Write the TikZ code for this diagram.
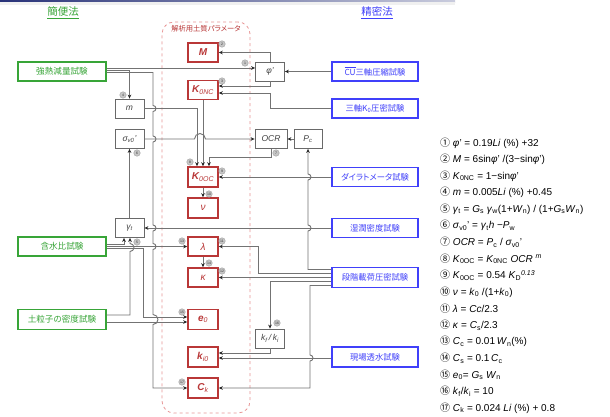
\documentclass[tikz,border=0pt]{standalone}
\usepackage{fontspec}
\setmainfont{Liberation Sans}
\newfontfamily\jp[RawFeature=+palt]{Noto Sans CJK JP}
\newfontfamily\jpn{Noto Sans CJK JP}
\usetikzlibrary{arrows.meta}
\definecolor{grn}{RGB}{56,165,56}
\definecolor{blu}{RGB}{64,64,250}
\definecolor{dred}{RGB}{185,55,55}
\definecolor{pnk}{RGB}{232,150,150}
\definecolor{lnc}{RGB}{115,115,115}
\definecolor{gbx}{RGB}{105,105,105}
\definecolor{navy}{RGB}{40,50,120}
\newcommand\sbt[1]{\textsubscript{#1}}
\newcommand\spt[1]{\textsuperscript{#1}}
\tikzset{
  gbox/.style={draw=grn, line width=1.3pt, fill=white, text=grn, minimum width=88pt, minimum height=19pt, inner sep=0pt, font=\jp\fontsize{8.6}{8.6}\selectfont},
  bbox/.style={draw=blu, line width=1.3pt, fill=white, text=blu, minimum width=86pt, minimum height=19pt, inner sep=0pt, font=\jp\fontsize{8.3}{8.3}\selectfont},
  rbox/.style={draw=dred, line width=1.6pt, fill=white, text=dred, minimum width=30pt, minimum height=19pt, inner sep=0pt, font=\fontsize{10}{10}\selectfont\bfseries\itshape},
  kbox/.style={draw=gbx, line width=0.8pt, fill=white, text=black!75, minimum width=29pt, minimum height=19pt, inner sep=0pt, font=\fontsize{8.5}{8.5}\selectfont\itshape},
  cn/.style={draw=lnc, line width=0.9pt, -{Stealth[length=4pt,width=3.6pt,color=black!85]}},
  mk/.style={circle, fill=gray!45, draw=gray!75, line width=0.4pt, inner sep=0pt, minimum size=6.5pt, font=\fontsize{3.5}{3.5}\selectfont, text=black!80},
  fm/.style={anchor=west, inner sep=0pt, font=\fontsize{10}{10}\selectfont},
}
\begin{document}
\begin{tikzpicture}[x=1pt,y=-1pt]
\useasboundingbox (0,0) rectangle (610,417);
\fill[white] (0,0) rectangle (610,417);
\shade[left color=navy, right color=navy!25] (0,0) rectangle (455,2.5);
\fill[gray!12] (0,2.5) rectangle (455,5.5);

% headers
\node[text=grn, font=\jp\fontsize{10.5}{10.5}\selectfont] (H1) at (63,13) {\underline{簡便法}};
\node[text=blu, font=\jp\fontsize{10.5}{10.5}\selectfont] (H2) at (377,13) {\underline{精密法}};

% parameter frame
\node[draw=pnk, dashed, line width=0.8pt, rounded corners=12pt, minimum width=88pt, minimum height=391pt, inner sep=0pt] (PAR) at (206,217.5) {};
\node[text=dred, font=\jp\fontsize{7.3}{7.3}\selectfont] (PARL) at (206,29) {解析用土質パラメータ};

% simple tests
\node[gbox] (G1) at (62,71.5) {強熱減量試験};
\node[gbox] (G2) at (62,246.5) {含水比試験};
\node[gbox, minimum height=20pt] (G3) at (62,319.5) {土粒子の密度試験};
% precise tests
\node[bbox] (B1) at (375,71.5) {$\overline{\mbox{CU}}$三軸圧縮試験};
\node[bbox] (B2) at (375,108.5) {三軸K\sbt{0}圧密試験};
\node[bbox] (B3) at (375,177) {ダイラトメータ試験};
\node[bbox] (B4) at (375,228) {湿潤密度試験};
\node[bbox, minimum height=20pt] (B5) at (375,277.5) {段階載荷圧密試験};
\node[bbox, minimum height=20pt] (B6) at (375,357) {現場透水試験};
% parameters
\node[rbox] (RM) at (203,52.5) {M};
\node[rbox] (RKNC) at (203,90) {K\sbt{\mdseries 0NC}};
\node[rbox, minimum height=20pt] (RKOC) at (203,177) {K\sbt{\mdseries 0OC}};
\node[rbox, minimum height=20pt] (RNU) at (203,208) {\mdseries ν};
\node[rbox] (RLAM) at (203,246.5) {\mdseries λ};
\node[rbox] (RKAP) at (203,277.5) {\mdseries κ};
\node[rbox, minimum height=20pt] (RE0) at (203,319.5) {e\sbt{\mdseries 0}};
\node[rbox, minimum height=20pt] (RK0) at (203,357) {k\sbt{\mdseries i0}};
\node[rbox, minimum height=20pt] (RCK) at (203,388) {C\sbt{\mdseries k}};
% intermediate
\node[kbox] (PHI) at (270,71.5) {φ'};
\node[kbox] (MM) at (129.5,108.5) {m};
\node[kbox] (SIG) at (129.5,139) {σ\sbt{v0}'};
\node[kbox, minimum width=32pt] (OCR) at (271,139) {OCR};
\node[kbox, minimum width=28pt] (PC) at (308,139) {P\sbt{c}};
\node[kbox] (GAM) at (129.5,228) {γ\sbt{t}};
\node[kbox] (KFKI) at (270,338.5) {k\sbt{f}\,/\,k\sbt{i}};

% connectors
\draw[cn] ([yshift=3.5pt]G1.east) -- ([yshift=3.5pt]PHI.west);
\draw[cn] ([yshift=1.5pt]G1.east) -| (MM.north);
\draw[cn] ([yshift=-1pt]G1.east) -- (153,72.5) -- (153,105.5)
  arc[start angle=90,end angle=-90,radius=3pt] -- (153,136)
  arc[start angle=90,end angle=-90,radius=3pt] -- (153,225)
  arc[start angle=90,end angle=-90,radius=3pt] -- (153,243.5)
  arc[start angle=90,end angle=-90,radius=3pt] -- (153,314.5)
  arc[start angle=90,end angle=-90,radius=5pt] -- (153,388) -- (RCK.west);
\draw[cn] (MM.east) -- (197,108.5) -- ([xshift=-6pt]RKOC.north);
\draw[cn] (SIG.east) -- (194.5,139) arc[start angle=180,end angle=0,radius=5.5pt] -- (OCR.west);
\draw[cn] (RKNC.south) -- (RKOC.north);
\draw[cn] (OCR.south) -- (271,157) -| ([xshift=6pt]RKOC.north);
\draw[cn] (PC.west) -- (OCR.east);
\draw[cn] ([yshift=8pt]B5.west) -- (308,269.5) -- (308,231)
  arc[start angle=-90,end angle=90,radius=3pt] -- (308,180)
  arc[start angle=-90,end angle=90,radius=3pt] -- (PC.south);
\draw[cn] (PHI.north) |- (RM.east);
\draw[cn] (B1.west) -- (PHI.east);
\draw[cn] (PHI.south) |- ([yshift=4pt]RKNC.east);
\draw[cn] (B2.west) -- (270,108.5) |- ([yshift=-3pt]RKNC.east);
\draw[cn] (B3.west) -- (RKOC.east);
\draw[cn] (RKOC.south) -- (RNU.north);
\draw[cn] (B4.west) -- (GAM.east);
\draw[cn] (GAM.north) -- (SIG.south);
\draw[cn] ([yshift=2pt]G2.east) -| ([xshift=-5.5pt]GAM.south);
\draw[cn] ([yshift=4.5pt]G3.east) -- (130,315) -- (130,251.5)
  arc[start angle=-90,end angle=90,radius=4pt] -- ([xshift=0.5pt]GAM.south);
\draw[cn] (G2.east) -- (RLAM.west);
\draw[cn] ([yshift=-2pt]G2.east) -- (143,248.5) |- ([yshift=2.5pt]RE0.west);
\draw[cn] ([yshift=-2.5pt]G3.east) -- ([yshift=-2.5pt]RE0.west);
\draw[cn] (RLAM.south) -- (RKAP.north);
\draw[cn] ([yshift=4pt]B5.west) -- (258,273.5) |- (RLAM.east);
\draw[cn] (B5.west) -- (RKAP.east);
\draw[cn] ([yshift=-4pt]B5.west) -| (KFKI.north);
\draw[cn] ([yshift=-8pt]B5.west) -- (310,285.5) -- (310,355)
  arc[start angle=90,end angle=-90,radius=3pt] -- (310,388) -- (RCK.east);
\draw[cn] (KFKI.south) |- ([yshift=4pt]RK0.east);
\draw[cn] ([yshift=-1pt]B6.west) -- ([yshift=-1pt]RK0.east);

% equation markers
\node[mk] (n1) at (245,63) {1};
\node[mk] (n2) at (222,44) {2};
\node[mk] (n3) at (222,81) {3};
\node[mk] (n4) at (123,95) {4};
\node[mk] (n5) at (137,242) {5};
\node[mk] (n6) at (137,153) {6};
\node[mk] (n7) at (276,153) {7};
\node[mk] (n8) at (190,162) {8};
\node[mk] (n9) at (222,171) {9};
\node[mk] (n10) at (209,194) {10};
\node[mk] (n11) at (222,241) {11};
\node[mk] (n12) at (222,271) {12};
\node[mk] (n13) at (182,241) {13};
\node[mk] (n14) at (209,263) {14};
\node[mk] (n15) at (182,312) {15};
\node[mk] (n16) at (277,323) {16};
\node[mk] (n17) at (182,382) {17};

% formulas
\node[fm] (f1) at (440,143) {{\jpn ①} \textit{φ}' = 0.19\textit{Li} (\%) +32};
\node[fm] (f2) at (440,159.6) {{\jpn ②} \textit{M} = 6sin\textit{φ}' /(3−sin\textit{φ}')};
\node[fm] (f3) at (440,176.1) {{\jpn ③} \textit{K}\sbt{0NC} = 1−sin\textit{φ}'};
\node[fm] (f4) at (440,192.7) {{\jpn ④} \textit{m} = 0.005\textit{Li} (\%) +0.45};
\node[fm] (f5) at (440,209.2) {{\jpn ⑤} \textit{γ}\sbt{t} = \textit{G}\sbt{s} \textit{γ}\sbt{w}(1+\textit{W}\sbt{n}) / (1+\textit{G}\sbt{s}\textit{W}\sbt{n})};
\node[fm] (f6) at (440,225.8) {{\jpn ⑥} \textit{σ}\sbt{v0}' = \textit{γ}\sbt{t}\textit{h} −\textit{P}\sbt{w}};
\node[fm] (f7) at (440,242.4) {{\jpn ⑦} \textit{OCR} = \textit{P}\sbt{c} / \textit{σ}\sbt{v0}'};
\node[fm] (f8) at (440,258.9) {{\jpn ⑧} \textit{K}\sbt{0OC} = \textit{K}\sbt{0NC} \textit{OCR} \spt{\textit{m}}};
\node[fm] (f9) at (440,275.5) {{\jpn ⑨} \textit{K}\sbt{0OC} = 0.54 \textit{K}\sbt{D}\spt{\textit{0.13}}};
\node[fm] (f10) at (440,292.0) {{\jpn ⑩} \textit{ν} = \textit{k}\sbt{0} /(1+\textit{k}\sbt{0})};
\node[fm] (f11) at (440,308.6) {{\jpn ⑪} \textit{λ} = \textit{Cc}/2.3};
\node[fm] (f12) at (440,325.2) {{\jpn ⑫} \textit{κ} = \textit{C}\sbt{s}/2.3};
\node[fm] (f13) at (440,341.7) {{\jpn ⑬} \textit{C}\sbt{c} = 0.01\,\textit{W}\sbt{n}(\%)};
\node[fm] (f14) at (440,358.3) {{\jpn ⑭} \textit{C}\sbt{s} = 0.1\,\textit{C}\sbt{c}};
\node[fm] (f15) at (440,374.8) {{\jpn ⑮} \textit{e}\sbt{0}= \textit{G}\sbt{s} \textit{W}\sbt{n}};
\node[fm] (f16) at (440,391.4) {{\jpn ⑯} \textit{k}\sbt{f}/\textit{k}\sbt{i} = 10};
\node[fm] (f17) at (440,408) {{\jpn ⑰} \textit{C}\sbt{k} = 0.024 \textit{Li} (\%) + 0.8};
\end{tikzpicture}
\end{document}
